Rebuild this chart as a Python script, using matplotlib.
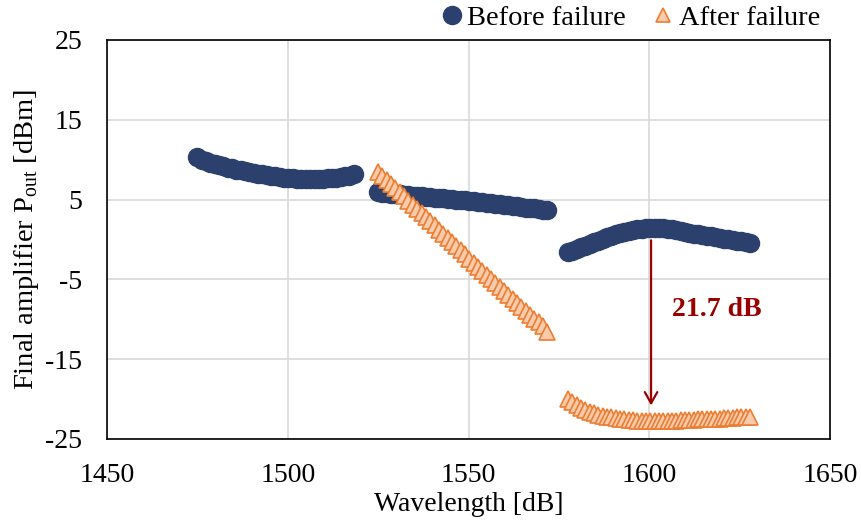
import matplotlib
matplotlib.use("Agg")
import matplotlib.pyplot as plt
from matplotlib.lines import Line2D

# ---------------- data ----------------
wl_s = [1475.0, 1476.2, 1477.4, 1478.6, 1479.8, 1481.0, 1482.2, 1483.4, 1484.6, 1485.8,
        1487.0, 1488.2, 1489.4, 1490.6, 1491.8, 1493.0, 1494.2, 1495.4, 1496.6, 1497.8,
        1499.0, 1500.2, 1501.4, 1502.6, 1503.8, 1505.0, 1506.2, 1507.4, 1508.6, 1509.8,
        1511.0, 1512.2, 1513.4, 1514.6, 1515.8, 1517.0, 1518.2]
before_s = [10.3, 10.0, 9.8, 9.6, 9.45, 9.3, 9.15, 9.0, 8.9, 8.75,
            8.65, 8.55, 8.45, 8.35, 8.25, 8.15, 8.05, 7.95, 7.9, 7.8,
            7.75, 7.7, 7.65, 7.6, 7.6, 7.55, 7.55, 7.55, 7.6, 7.6,
            7.65, 7.7, 7.75, 7.8, 7.9, 8.0, 8.2]

wl_c = [1525.0, 1526.2, 1527.4, 1528.6, 1529.8, 1531.0, 1532.2, 1533.4, 1534.6, 1535.8,
        1537.0, 1538.2, 1539.4, 1540.6, 1541.8, 1543.0, 1544.2, 1545.4, 1546.6, 1547.8,
        1549.0, 1550.2, 1551.4, 1552.6, 1553.8, 1555.0, 1556.2, 1557.4, 1558.6, 1559.8,
        1561.0, 1562.2, 1563.4, 1564.6, 1565.8, 1567.0, 1568.2, 1569.4, 1570.6, 1571.8]
before_c = [5.9, 5.85, 5.8, 5.75, 5.7, 5.65, 5.6, 5.55, 5.5, 5.45,
            5.4, 5.35, 5.3, 5.25, 5.2, 5.15, 5.1, 5.05, 5.0, 4.95,
            4.9, 4.85, 4.8, 4.75, 4.7, 4.6, 4.55, 4.5, 4.4, 4.35,
            4.3, 4.2, 4.15, 4.1, 4.0, 3.95, 3.9, 3.8, 3.75, 3.7]
after_c = [8.5, 8.0, 7.4, 6.9, 6.4, 5.9, 5.4, 4.8, 4.3, 3.8,
           3.3, 2.8, 2.3, 1.8, 1.2, 0.7, 0.2, -0.3, -0.8, -1.3,
           -1.8, -2.4, -2.9, -3.4, -3.9, -4.4, -4.9, -5.4, -5.9, -6.4,
           -6.9, -7.4, -7.9, -8.4, -8.9, -9.4, -9.9, -10.4, -10.9, -11.6]

wl_l = [1577.5, 1578.7, 1579.9, 1581.1, 1582.3, 1583.5, 1584.7, 1585.9, 1587.1, 1588.3,
        1589.5, 1590.7, 1591.9, 1593.1, 1594.3, 1595.5, 1596.7, 1597.9, 1599.1, 1600.3,
        1601.5, 1602.7, 1603.9, 1605.1, 1606.3, 1607.5, 1608.7, 1609.9, 1611.1, 1612.3,
        1613.5, 1614.7, 1615.9, 1617.1, 1618.3, 1619.5, 1620.7, 1621.9, 1623.1, 1624.3,
        1625.5, 1626.7, 1627.9]
before_l = [-1.6, -1.4, -1.2, -1.0, -0.8, -0.55, -0.35, -0.15, 0.1, 0.3,
            0.5, 0.65, 0.8, 0.95, 1.1, 1.2, 1.3, 1.35, 1.4, 1.45,
            1.45, 1.45, 1.4, 1.35, 1.3, 1.2, 1.1, 1.0, 0.85, 0.75,
            0.65, 0.55, 0.45, 0.4, 0.3, 0.2, 0.1, 0.0, -0.1, -0.2,
            -0.25, -0.35, -0.4]
after_l = [-20.0, -20.4, -20.8, -21.1, -21.4, -21.6, -21.8, -22.0, -22.1, -22.2,
           -22.3, -22.4, -22.5, -22.55, -22.6, -22.65, -22.7, -22.7, -22.75, -22.75,
           -22.75, -22.75, -22.75, -22.7, -22.7, -22.7, -22.65, -22.65, -22.6, -22.6,
           -22.55, -22.55, -22.5, -22.5, -22.45, -22.45, -22.4, -22.4, -22.35, -22.3,
           -22.3, -22.25, -22.2]

arrow_x = 1600.5
arrow_from = -0.1
arrow_to = -20.8
drop_label = "21.7 dB"

x_ticks = [1450, 1500, 1550, 1600, 1650]
y_ticks = [-25, -15, -5, 5, 15, 25]

# ---------------- style ----------------
navy = "#2B406C"
orange_edge = "#ED7D31"
orange_fill = "#F8CBAD"
dark_red = "#9A0000"

plt.rcParams["font.family"] = ["Liberation Serif", "DejaVu Serif"]
plt.rcParams["mathtext.fontset"] = "custom"
plt.rcParams["mathtext.rm"] = "Liberation Serif"
plt.rcParams["axes.unicode_minus"] = False

fig = plt.figure(figsize=(8.61, 5.21), dpi=100)
ax = fig.add_axes([107 / 861, 1 - 439 / 521, (830 - 107) / 861, (439 - 40) / 521])

circ_kw = dict(linestyle="none", marker="o", markersize=13, color=navy, zorder=3)
tri_kw = dict(linestyle="none", marker="^", markersize=11.5, markerfacecolor=orange_fill,
              markeredgecolor=orange_edge, markeredgewidth=1.2, zorder=4)

for wl, vals in [(wl_s, before_s), (wl_c, before_c), (wl_l, before_l)]:
    ax.plot(wl, vals, **circ_kw)
for wl, vals in [(wl_c, after_c), (wl_l, after_l)]:
    ax.plot(wl, vals, **tri_kw)

ax.annotate("", xy=(arrow_x, arrow_to), xytext=(arrow_x, arrow_from),
            arrowprops=dict(arrowstyle="->,head_length=0.8,head_width=0.45",
                            color=dark_red, lw=1.6, shrinkA=0, shrinkB=0), zorder=5)
ax.text(1618.7, -8.8, drop_label, color=dark_red, fontsize=20, fontweight="bold",
        ha="center", va="center")

ax.set_xlim(1450, 1650)
ax.set_ylim(-25, 25)
ax.set_xticks(x_ticks)
ax.set_yticks(y_ticks)
ax.grid(True, color="#D9D9D9", lw=1.2, zorder=0)
ax.set_axisbelow(True)
for s in ax.spines.values():
    s.set_color("black")
    s.set_linewidth(1.2)
ax.tick_params(axis="both", length=0, labelsize=20)
ax.tick_params(axis="y", pad=18)
ax.tick_params(axis="x", pad=17)

ax.set_xlabel("Wavelength [dB]", fontsize=20, labelpad=3)
ax.set_ylabel(r"Final amplifier P$_{\mathrm{out}}$ [dBm]", fontsize=20.5, labelpad=3)

handles = [
    Line2D([], [], linestyle="none", marker="o", markersize=13, color=navy),
    Line2D([], [], linestyle="none", marker="^", markersize=10, markerfacecolor=orange_fill,
           markeredgecolor=orange_edge, markeredgewidth=1.2),
]
fig.legend(handles, ["Before failure", "After failure"], loc="center right",
           bbox_to_anchor=(820 / 861, 1 - 18 / 521), ncol=2, frameon=False,
           fontsize=20.5, handlelength=0.6, handletextpad=0.25, columnspacing=1.0,
           borderpad=0, borderaxespad=0)

fig.savefig("out.png", dpi=100)
